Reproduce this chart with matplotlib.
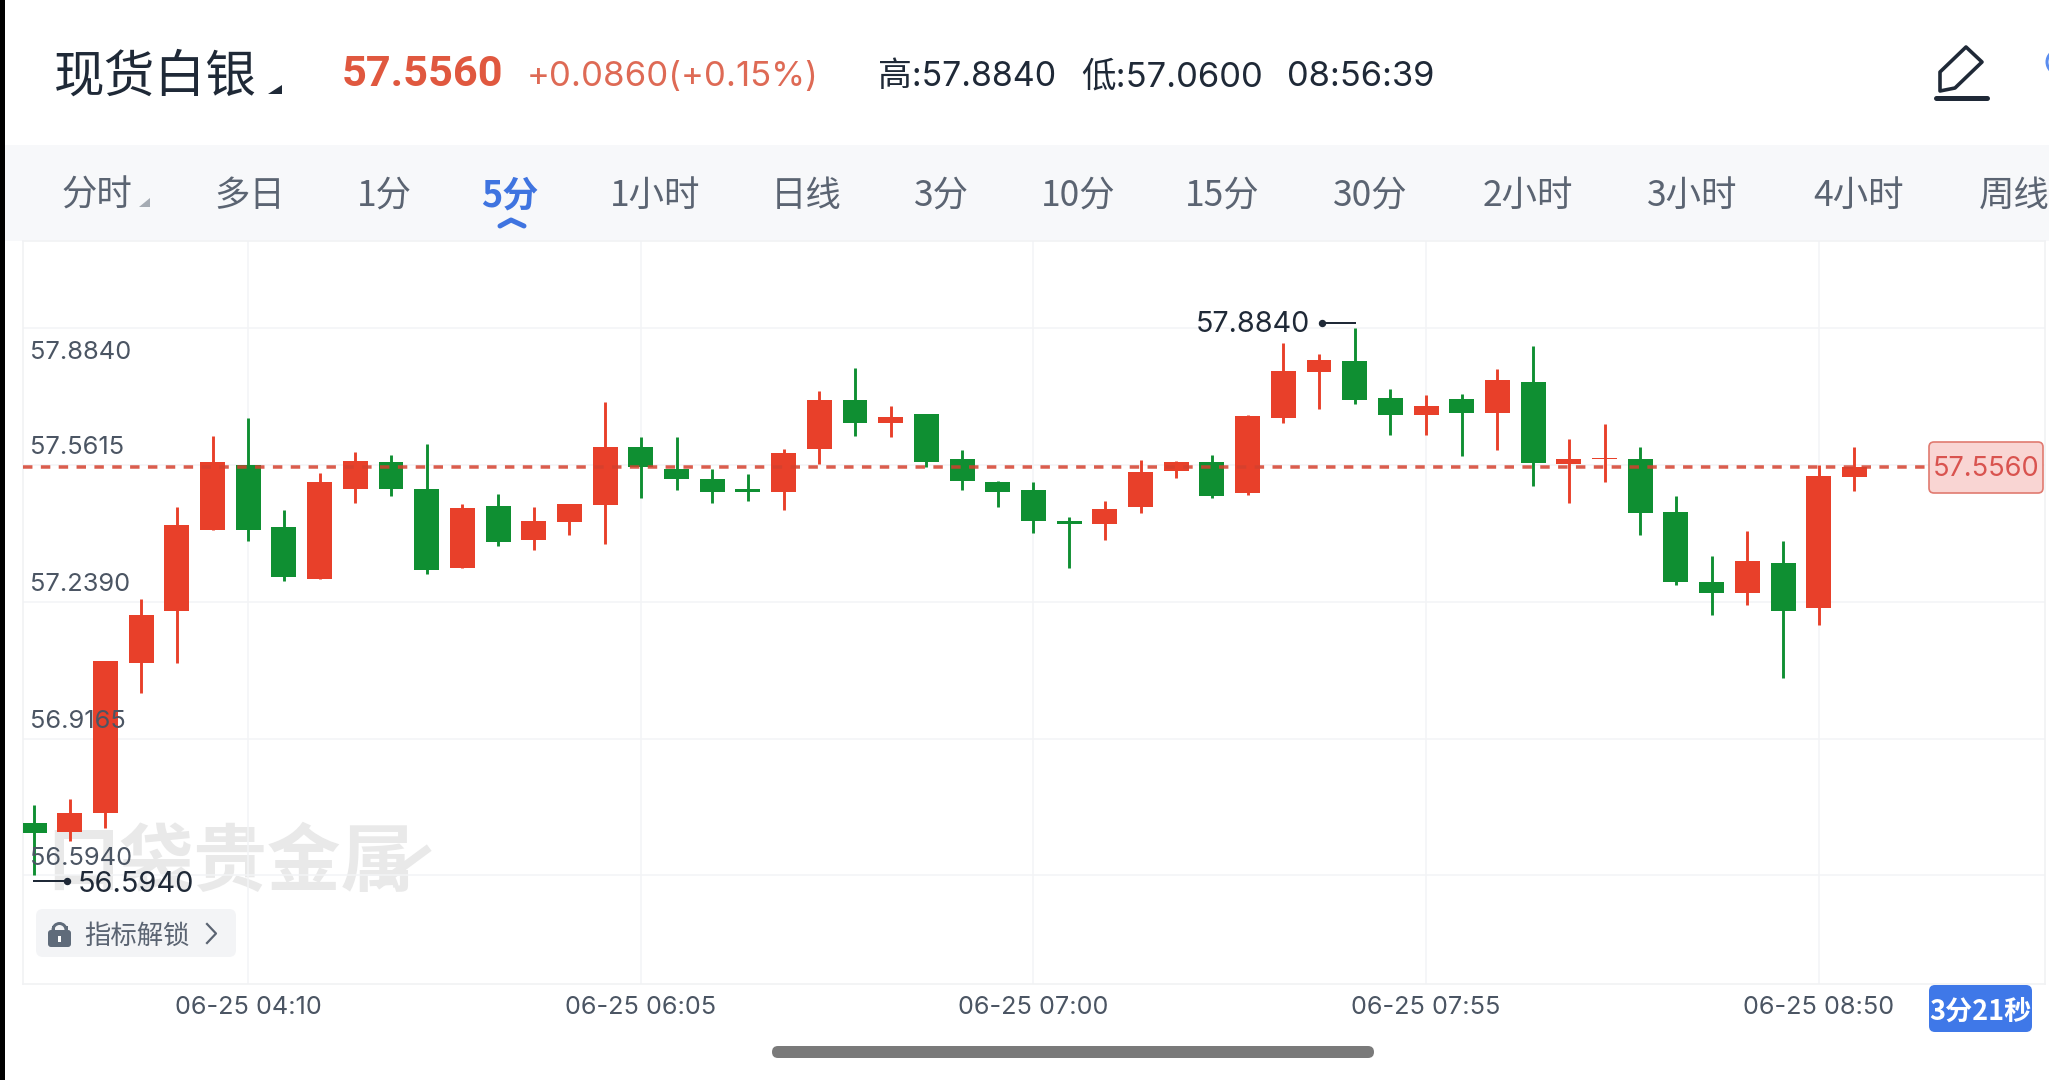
import matplotlib
matplotlib.use("Agg")
import matplotlib.pyplot as plt
from matplotlib.patches import FancyBboxPatch, Rectangle, Polygon, Wedge, Circle
from matplotlib.lines import Line2D
from matplotlib.transforms import ScaledTranslation

LATIN = ["Inter", "Noto Sans CJK SC", "DejaVu Sans"]
CJK = ["Noto Sans CJK SC", "Inter", "DejaVu Sans"]
plt.rcParams["font.family"] = LATIN

# Five-minute candles, oldest first
opens = [56.718, 56.697, 56.742, 57.094, 57.218, 57.408, 57.561, 57.416, 57.293, 57.505,
         57.568, 57.505, 57.319, 57.465, 57.385, 57.426, 57.466, 57.604, 57.551, 57.527,
         57.505, 57.498, 57.599, 57.714, 57.659, 57.681, 57.575, 57.520, 57.502, 57.430,
         57.423, 57.461, 57.548, 57.569, 57.494, 57.672, 57.780, 57.806, 57.718, 57.678,
         57.717, 57.684, 57.757, 57.564, 57.575, 57.575, 57.450, 57.285, 57.260, 57.331,
         57.224, 57.534]
highs = [56.759, 56.774, 57.100, 57.246, 57.463, 57.630, 57.671, 57.455, 57.543, 57.592,
         57.584, 57.611, 57.469, 57.492, 57.462, 57.470, 57.710, 57.626, 57.628, 57.552,
         57.540, 57.598, 57.736, 57.790, 57.700, 57.681, 57.597, 57.523, 57.520, 57.438,
         57.476, 57.572, 57.570, 57.584, 57.678, 57.848, 57.822, 57.884, 57.740, 57.727,
         57.728, 57.788, 57.841, 57.622, 57.658, 57.604, 57.488, 57.347, 57.406, 57.383,
         57.560, 57.604]
lows = [56.594, 56.674, 56.705, 57.023, 57.094, 57.408, 57.381, 57.288, 57.293, 57.472,
        57.487, 57.304, 57.319, 57.370, 57.361, 57.395, 57.374, 57.484, 57.502, 57.472,
        57.477, 57.454, 57.564, 57.630, 57.628, 57.557, 57.502, 57.463, 57.400, 57.319,
        57.384, 57.447, 57.531, 57.484, 57.491, 57.659, 57.694, 57.704, 57.632, 57.632,
        57.583, 57.597, 57.512, 57.472, 57.522, 57.397, 57.279, 57.207, 57.232, 57.060,
        57.185, 57.499]
closes = [56.694, 56.741, 57.100, 57.208, 57.420, 57.568, 57.408, 57.298, 57.520, 57.570,
          57.505, 57.314, 57.460, 57.379, 57.429, 57.469, 57.604, 57.557, 57.529, 57.498,
          57.497, 57.589, 57.714, 57.659, 57.674, 57.569, 57.523, 57.498, 57.430, 57.423,
          57.458, 57.545, 57.567, 57.488, 57.676, 57.783, 57.808, 57.714, 57.679, 57.699,
          57.684, 57.761, 57.566, 57.575, 57.577, 57.447, 57.286, 57.260, 57.334, 57.218,
          57.535, 57.556]

price_ticks = [57.8840, 57.5615, 57.2390, 56.9165, 56.5940]
time_positions = [6, 17, 28, 39, 50]
time_labels = ["06-25 04:10", "06-25 06:05", "06-25 07:00", "06-25 07:55", "06-25 08:50"]
last_price = 57.5560
max_price = 57.8840
min_price = 56.5940

tab_labels = ["分时", "多日", "1分", "5分", "1小时", "日线", "3分", "10分", "15分", "30分",
              "2小时", "3小时", "4小时", "周线"]
tab_centers = [97, 250, 384, 510, 655, 806, 941, 1078, 1222, 1370, 1528, 1692, 1858, 2014]

RED = "#E8402A"
GREEN = "#0F8F32"
INK = "#1F2937"
MUTED = "#4B5563"
TAB = "#5B6472"
BLUE = "#3F74E0"
W, H = 2049, 1080
PX = 72 / 100  # points per pixel at dpi 100

fig = plt.figure(figsize=(W / 100, H / 100), dpi=100, facecolor="white")

# Page furniture lives in a full-figure axes measured in pixels
ui = fig.add_axes([0, 0, 1, 1], zorder=0)
ui.set_xlim(0, W)
ui.set_ylim(H, 0)
ui.axis("off")

ui.add_patch(Rectangle((5, 145), W - 5, 96, fc="#F7F8FA", ec="none"))
ui.add_patch(Rectangle((0, 0), 5, H, fc="black", ec="none", zorder=5))

ui.text(54, 78, "现货白银", family=CJK, fontsize=36.5, weight="medium", color=INK, va="center", ha="left")
ui.add_patch(Polygon([(282, 85), (282, 94), (268, 94)], fc=INK, ec="none"))
ui.text(342, 75, "57.5560", family="Roboto", fontsize=31.2, weight="bold", color="#E0583F", va="center", ha="left")
ui.text(527, 77, "+0.0860(+0.15%)", fontsize=25, color="#DE6A55", va="center", ha="left")
ui.text(878, 77, "高:57.8840", fontsize=24.4, color=INK, va="center", ha="left")
ui.text(1081, 77, "低:57.0600", fontsize=24.9, color=INK, va="center", ha="left")
ui.text(1287, 77, "08:56:39", fontsize=24.8, color=INK, va="center", ha="left")

# Pen icon and the clipped button beside it
ui.add_patch(Polygon([(1966, 47), (1982, 62), (1955, 88), (1940, 91), (1940, 72)],
                     fc="none", ec=INK, lw=3.6 * PX, joinstyle="round"))
ui.add_line(Line2D([1936, 1987], [98, 98], color=INK, lw=5 * PX, solid_capstyle="round"))
ui.add_patch(Circle((2059, 62), 12, fc="none", ec="#5B8DEF", lw=3 * PX))

# Period tabs
for label, cx in zip(tab_labels, tab_centers):
    active = label == "5分"
    ui.text(cx, 196, label, family=CJK, fontsize=26 if active else 25.5, ha="center", va="center",
            color=BLUE if active else TAB, weight="bold" if active else "normal")
ui.add_patch(Polygon([(150, 198), (150, 207), (139, 207)], fc="#A5ABB3", ec="none"))
ui.add_line(Line2D([500, 511, 524], [226, 220, 226], color=BLUE, lw=5 * PX,
                   solid_capstyle="round", solid_joinstyle="round"))

# Scroll indicator
ui.add_patch(FancyBboxPatch((772, 1046), 602, 12, boxstyle="round,pad=0,rounding_size=6",
                            fc="#7A7A7A", ec="none"))

# Faint brand mark under the candles
ui.text(46, 864, "口袋贵金属", family=CJK, fontsize=53, weight="bold", color="#E9E9E9",
        va="center", ha="left")
ui.add_line(Line2D([380, 426], [884, 850], color="#E9E9E9", lw=8 * PX))

# Candle chart
left, right, top, bottom = 23, 2045, 241, 984
ax = fig.add_axes([left / W, 1 - bottom / H, (right - left) / W, (bottom - top) / H], zorder=1)
ax.patch.set_alpha(0)
ax.set_xlim(-0.31, 56.34)
ax.set_ylim(56.338, 58.089)
for spine in ax.spines.values():
    spine.set_color("#F1F2F4")
    spine.set_linewidth(1.2)
ax.set_yticks(price_ticks)
ax.set_xticks(time_positions)
ax.set_xticklabels(time_labels, fontsize=18.2, color=MUTED)
ax.tick_params(axis="x", length=0, pad=9)
ax.tick_params(axis="y", length=0, labelleft=False)
ax.grid(True, color="#F3F4F6", lw=1.1)
ax.set_axisbelow(True)

xs = list(range(len(opens)))
colors = [RED if c >= o else GREEN for o, c in zip(opens, closes)]
body_bottom = [min(o, c) for o, c in zip(opens, closes)]
body_height = [max(abs(c - o), 0.002) for o, c in zip(opens, closes)]
ax.vlines(xs, lows, highs, colors=colors, lw=2.9 * PX, zorder=3)
ax.bar(xs, body_height, bottom=body_bottom, width=0.70, color=colors, lw=0, zorder=4)

# Last-price guide, stopping just short of its tag
ax.plot([-0.31, 53.0], [last_price, last_price], color="#D4402E", alpha=0.85, lw=3.5 * PX,
        dashes=(2.7, 2.4), zorder=5)

# Price scale text sits inside the plot; the top one below its line, the others above
for i, value in enumerate(price_ticks):
    dy = -25 if i == 0 else 17
    ax.annotate(f"{value:.4f}", xy=(0, value), xycoords=("axes fraction", "data"),
                xytext=(7 * PX, dy * PX), textcoords="offset points", ha="left", va="center",
                fontsize=18.3, color=MUTED, zorder=7)

# Session extremes with their leader lines
imax = highs.index(max_price)
imin = lows.index(min_price)
ax.annotate(f"{max_price:.4f}", xy=(imax, max_price), xytext=(-45 * PX, 3 * PX),
            textcoords="offset points", ha="right", va="center", fontsize=20.7, color=INK, zorder=7)
ax.annotate(f"{min_price:.4f}", xy=(imin, min_price), xytext=(44 * PX, -9 * PX),
            textcoords="offset points", ha="left", va="center", fontsize=20.9, color=INK, zorder=7)
for idx, value, dx, dy in [(imax, max_price, -33, 5), (imin, min_price, 33, -6)]:
    trans = ax.transData + ScaledTranslation(0, dy / 100, fig.dpi_scale_trans)
    ax.plot([idx, idx + dx / 35.7], [value, value], color=INK, lw=2 * PX, transform=trans, zorder=7)
    ax.plot([idx + dx / 35.7], [value], "o", ms=6 * PX, color=INK, transform=trans, zorder=7)

# Overlay controls drawn above the chart
top_ui = fig.add_axes([0, 0, 1, 1], zorder=2)
top_ui.set_xlim(0, W)
top_ui.set_ylim(H, 0)
top_ui.axis("off")

top_ui.add_patch(FancyBboxPatch((1929, 442), 114, 51, boxstyle="round,pad=0,rounding_size=5",
                                fc="#F9D5D3", ec="#E07A70", lw=1.2))
top_ui.annotate(f"{last_price:.4f}", xy=(0, last_price), xycoords=("figure fraction", ax.transData),
                xytext=(1986 * PX, 2 * -PX), textcoords="offset points", ha="center", va="center",
                fontsize=19.6, color="#D9534F")

top_ui.add_patch(FancyBboxPatch((36, 909), 200, 48, boxstyle="round,pad=0,rounding_size=7",
                                fc="#F3F4F6", ec="none"))
top_ui.add_patch(FancyBboxPatch((48, 930), 23, 17, boxstyle="round,pad=0,rounding_size=3",
                                fc="#5F6B7A", ec="none"))
top_ui.add_patch(Wedge((59.5, 930), 8, 180, 360, width=3, fc="#5F6B7A", ec="none"))
top_ui.add_patch(Rectangle((51.5, 926), 3, 5, fc="#5F6B7A", ec="none"))
top_ui.add_patch(Rectangle((64.5, 926), 3, 5, fc="#5F6B7A", ec="none"))
top_ui.add_patch(Rectangle((58, 936), 3, 6, fc="white", ec="none"))
top_ui.text(84, 936, "指标解锁", family=CJK, fontsize=19, color=TAB, ha="left", va="center")
top_ui.add_line(Line2D([207, 216, 207], [924, 933.5, 943], color=TAB, lw=2.2 * PX))

top_ui.add_patch(FancyBboxPatch((1929, 985), 103, 47, boxstyle="round,pad=0,rounding_size=6",
                                fc="#3F78E8", ec="none"))
top_ui.text(1980.5, 1012, "3分21秒", family=CJK, fontsize=19.5, weight="bold", color="white",
            ha="center", va="center")

fig.savefig("out.png", dpi=100, facecolor="white")
